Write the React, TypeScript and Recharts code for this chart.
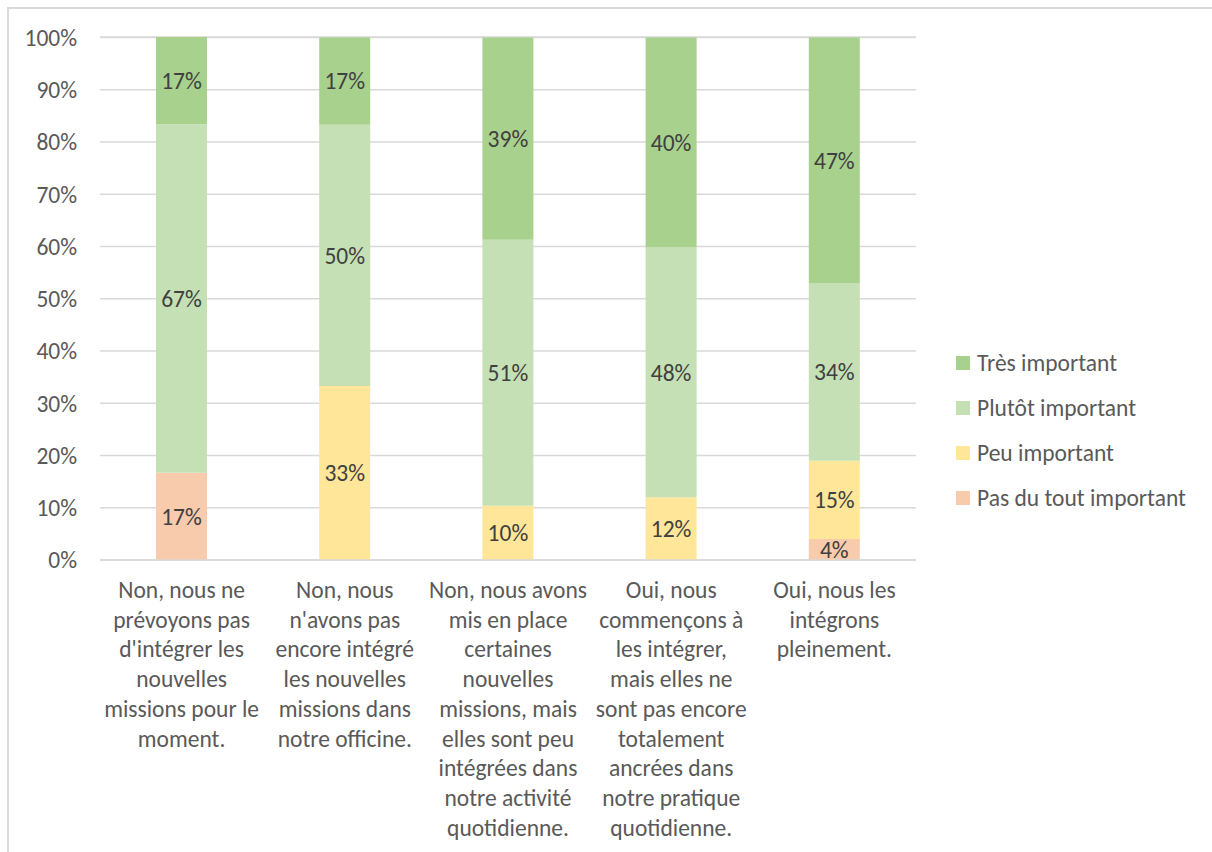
import { BarChart, Bar, XAxis, YAxis, CartesianGrid, LabelList } from 'recharts';

const categoryLines: string[][] = [
  ['Non, nous ne', 'prévoyons pas', "d'intégrer les", 'nouvelles', 'missions pour le', 'moment.'],
  ['Non, nous', "n'avons pas", 'encore intégré', 'les nouvelles', 'missions dans', 'notre officine.'],
  ['Non, nous avons', 'mis en place', 'certaines', 'nouvelles', 'missions, mais', 'elles sont peu', 'intégrées dans', 'notre activité', 'quotidienne.'],
  ['Oui, nous', 'commençons à', 'les intégrer,', 'mais elles ne', 'sont pas encore', 'totalement', 'ancrées dans', 'notre pratique', 'quotidienne.'],
  ['Oui, nous les', 'intégrons', 'pleinement.'],
];

const pasDuTout = [16.7, 0, 0, 0, 4];
const peu = [0, 33.3, 10.4, 12, 15];
const plutot = [66.7, 50, 50.9, 47.8, 34];
const tres = [16.7, 16.7, 38.7, 40.2, 47];

const yTicks = [0, 10, 20, 30, 40, 50, 60, 70, 80, 90, 100];

const seriesNames = ['Pas du tout important', 'Peu important', 'Plutôt important', 'Très important'];
const seriesColors = ['#F8CBAD', '#FFE699', '#C5E0B4', '#A9D18E'];

const FONT = 'Carlito, Lato, "Noto Sans", sans-serif';
const FS = 23.5;

const data = categoryLines.map((lines, i) => ({
  name: lines.join(' '),
  pas: pasDuTout[i],
  peu: peu[i],
  plutot: plutot[i],
  tres: tres[i],
}));

const fmt = (v: any) => (Number(v) > 0 ? `${Math.round(Number(v))}%` : '');

function CategoryTick(props: any) {
  const { x, y, index } = props;
  const lines = categoryLines[index] || [];
  return (
    <g transform={`translate(${x},${y})`}>
      <text textAnchor="middle" fill="#595959" fontSize={FS} fontFamily={FONT}>
        {lines.map((l, i) => (
          <tspan key={i} x={0} dy={i === 0 ? 30 : 29.7}>
            {l}
          </tspan>
        ))}
      </text>
    </g>
  );
}

function SideLegend() {
  const order = [3, 2, 1, 0];
  return (
    <div
      style={{
        position: 'absolute',
        left: 947,
        top: 331,
        fontFamily: FONT,
        fontSize: FS,
        color: '#595959',
        whiteSpace: 'nowrap',
      }}
    >
      {order.map((k) => (
        <div key={k} style={{ display: 'flex', alignItems: 'center', height: 45 }}>
          <span style={{ width: 14, height: 14, background: seriesColors[k], marginRight: 7, display: 'inline-block' }} />
          <span>{seriesNames[k]}</span>
        </div>
      ))}
    </div>
  );
}

export default function App() {
  const keys = ['pas', 'peu', 'plutot', 'tres'];
  return (
    <div
      style={{
        position: 'fixed',
        left: 7,
        top: 7,
        width: 1220,
        height: 860,
        borderTop: '2px solid #D9D9D9',
        borderLeft: '2px solid #D9D9D9',
        background: '#fff',
      }}
    >
      <BarChart
        width={1203}
        height={850}
        data={data}
        margin={{ top: 28, right: 296, bottom: 0, left: 0 }}
        barSize={51}
      >
        <CartesianGrid vertical={false} stroke="#D9D9D9" strokeWidth={1.5} />
        <XAxis
          dataKey="name"
          axisLine={{ stroke: '#D9D9D9', strokeWidth: 1.5 }}
          tickLine={false}
          interval={0}
          height={299}
          tick={<CategoryTick />}
        />
        <YAxis
          domain={[0, 100]}
          ticks={yTicks}
          tickFormatter={(v) => `${v}%`}
          axisLine={false}
          tickLine={false}
          width={91}
          tickMargin={17}
          tick={{ fill: '#595959', fontSize: FS, fontFamily: FONT }}
        />
        {keys.map((k, i) => (
          <Bar key={k} dataKey={k} name={seriesNames[i]} stackId="s" fill={seriesColors[i]} isAnimationActive={false}>
            <LabelList dataKey={k} position="center" formatter={fmt} fill="#404040" fontSize={FS} fontFamily={FONT} />
          </Bar>
        ))}
      </BarChart>
      <SideLegend />
    </div>
  );
}
